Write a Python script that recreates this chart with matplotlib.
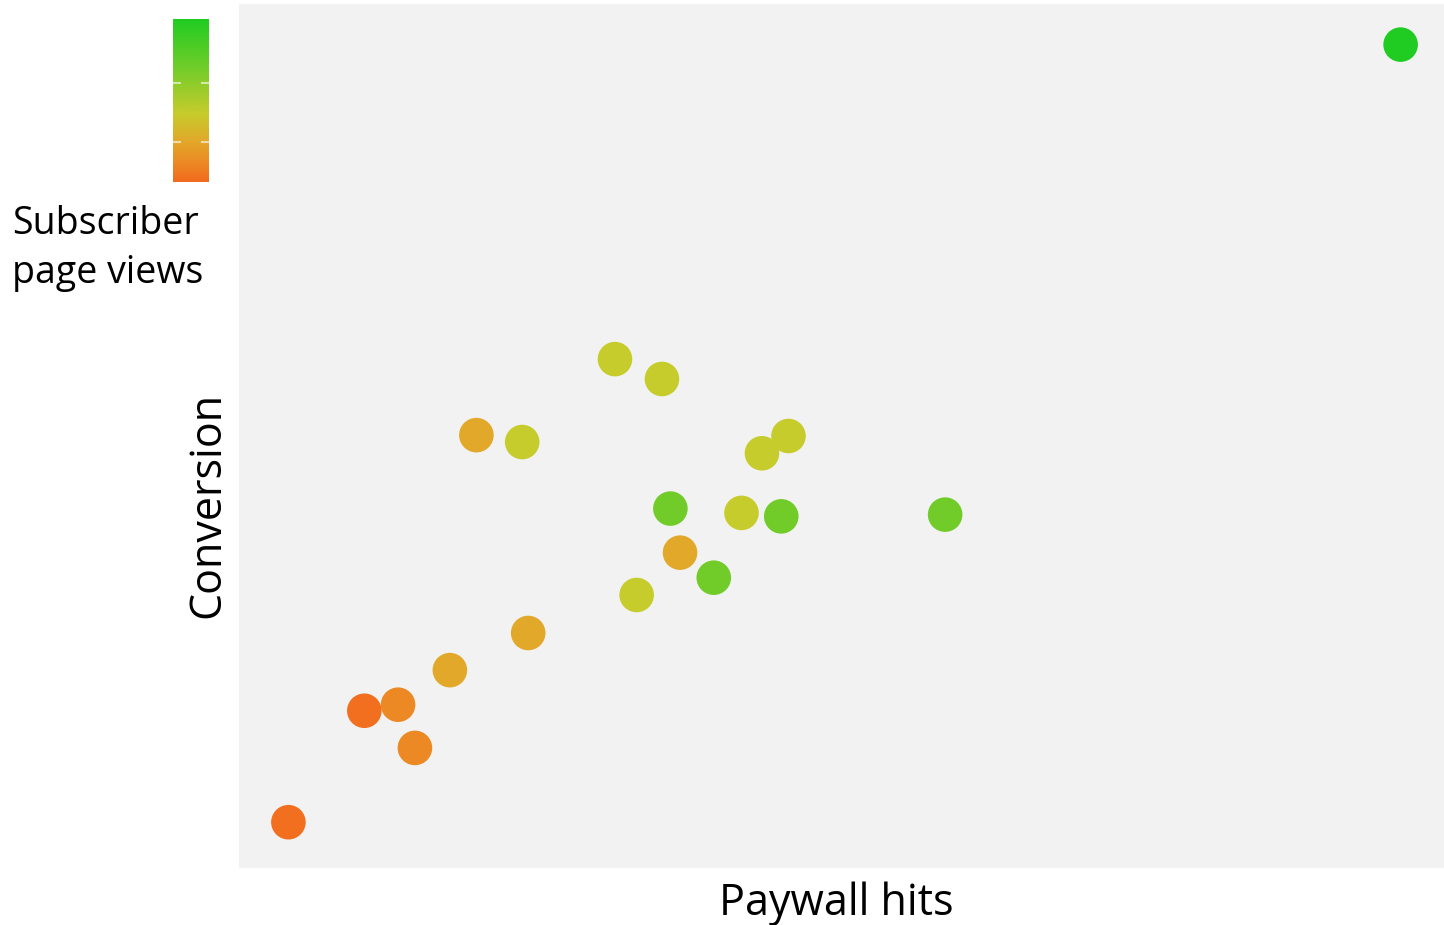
import numpy as np
import matplotlib.pyplot as plt
from matplotlib.colors import LinearSegmentedColormap, Normalize

plt.rcParams['font.family'] = ['Open Sans', 'DejaVu Sans']

# Paywall hits, conversion and subscriber page views per article
paywall_hits = [41, 104, 132, 146, 175, 240, 197, 235, 312, 351,
                434, 456, 358, 417, 450, 586, 366, 394, 330, 964]
conversion = [53, 182, 189, 139, 229, 272, 501, 493, 589, 566,
              480, 500, 416, 411, 407, 409, 365, 336, 316, 953]
page_views = [2, 2, 12, 12, 25, 25, 25, 42, 42, 42,
              42, 42, 70, 42, 70, 70, 25, 70, 42, 100]
scale_ticks = [24.5, 60.7]

cmap = LinearSegmentedColormap.from_list(
    'views',
    [(0.0, '#f26a1e'), (0.12, '#ec8a24'), (0.25, '#e2a82a'),
     (0.42, '#c6cc2c'), (0.7, '#72cc2a'), (1.0, '#20cc22')])
norm = Normalize(vmin=0, vmax=100)

fig = plt.figure(figsize=(14.44, 9.25), dpi=100)
ax = fig.add_axes([239 / 1444, 57 / 925, 1205 / 1444, 864 / 925])
ax.set_facecolor('#f2f2f2')
for s in ax.spines.values():
    s.set_visible(False)
ax.set_xticks([])
ax.set_yticks([])
ax.set_xlim(0, 1000)
ax.set_ylim(0, 1000)

ax.scatter(paywall_hits, conversion, c=page_views, cmap=cmap, norm=norm,
           s=620, linewidths=0, zorder=3)

# colour scale
cax = fig.add_axes([173 / 1444, 743 / 925, 36 / 1444, 163 / 925])
grad = np.linspace(0, 100, 256).reshape(-1, 1)
cax.imshow(grad, cmap=cmap, norm=norm, aspect='auto', origin='lower',
           extent=[0, 1, 0, 100])
for t in scale_ticks:
    cax.plot([0, 0.19], [t, t], color='white', lw=1.5, alpha=0.6)
    cax.plot([0.81, 1], [t, t], color='white', lw=1.5, alpha=0.6)
cax.set_xlim(0, 1)
cax.set_ylim(0, 100)
cax.axis('off')

fig.text(12 / 1444, 1 - 205 / 925, 'Subscriber\npage views', ha='left',
         va='top', fontsize=27, linespacing=1.38)
fig.text(836 / 1444, 1 - 904 / 925, 'Paywall hits', ha='center',
         va='center', fontsize=31)
fig.text(208 / 1444, 1 - 505 / 925, 'Conversion', ha='center',
         va='center', rotation=90, fontsize=31)

fig.savefig('out.png', dpi=100)
